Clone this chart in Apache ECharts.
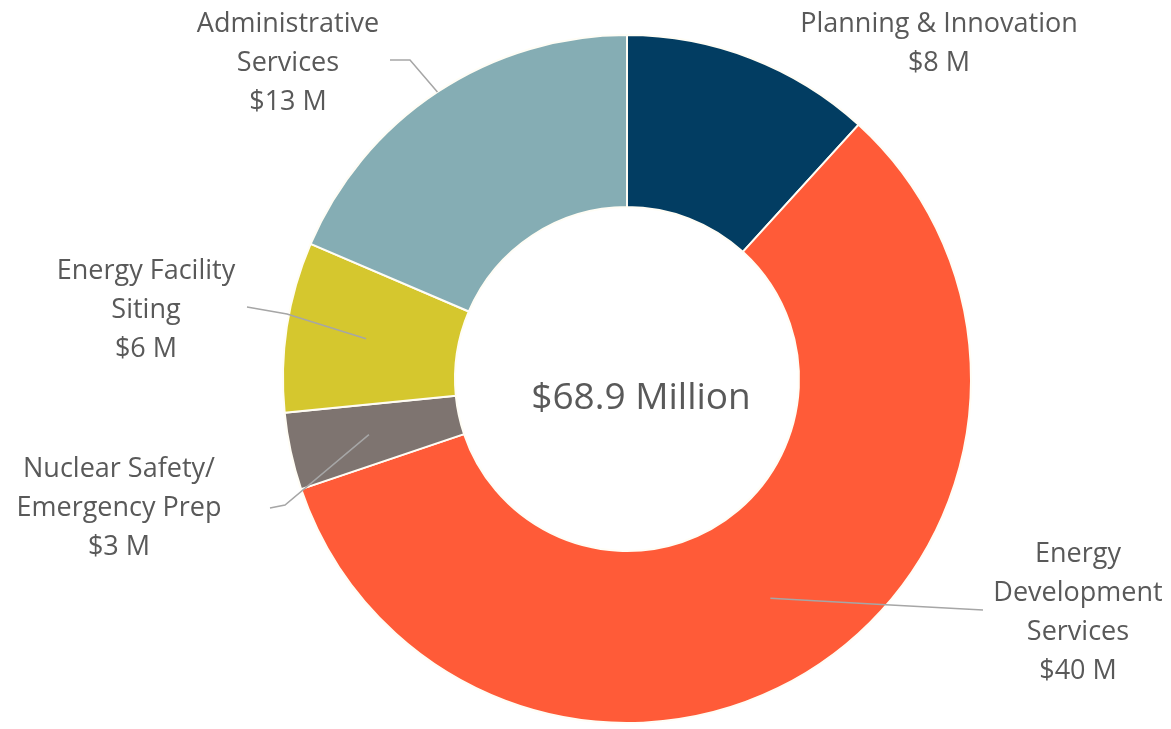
<!DOCTYPE html>
<html>
<head>
<meta charset="utf-8">
<script src="https://cdn.jsdelivr.net/npm/echarts@6/dist/echarts.min.js"></script>
<style>
html,body{margin:0;padding:0;background:#fff;}
#chart{width:1171px;height:729px;}
</style>
</head>
<body>
<div id="chart"></div>
<script>
// ---- data ----
const categories = ['Planning & Innovation', 'Energy Development Services', 'Nuclear Safety/ Emergency Prep', 'Energy Facility Siting', 'Administrative Services'];
const categoryLines = ['Planning & Innovation', 'Energy\nDevelopment\nServices', 'Nuclear Safety/\nEmergency Prep', 'Energy Facility\nSiting', 'Administrative\nServices'];
const values = [8.1, 40.0, 2.5, 5.5, 12.8];
const valueLabels = ['$8 M', '$40 M', '$3 M', '$6 M', '$13 M'];
const totalLabel = '$68.9 Million';
const colors = ['#023D62', '#FF5B38', '#7E7470', '#D5C72E', '#85ADB4'];

// ---- layout (not data) ----
const CX = 627, CY = 379, R_IN = 172, R_OUT = 344;
const labelPos = [[939, 44], [1078, 613], [119, 508], [146, 310], [288, 63]];
// leader line: label-side points, anchor radius
const leader = [
  null,
  {pts: [[983, 610]], r: 262},
  {pts: [[270, 508], [285, 505]], r: 264},
  {pts: [[247, 307], [287, 314]], r: 264},
  {pts: [[390, 60], [410, 60]], r: 344}
];

const total = values.reduce((a, b) => a + b, 0);
const midAngles = [];
let cum = 0;
values.forEach(v => { midAngles.push((90 - (cum + v / 2) / total * 360) * Math.PI / 180); cum += v; });

const chart = echarts.init(document.getElementById('chart'), null, {renderer: 'canvas'});
const FONT = 'Open Sans';
const pieData = categories.map((c, i) => ({name: c, value: values[i]}));

chart.setOption({
  animation: false,
  backgroundColor: '#ffffff',
  title: {
    text: totalLabel,
    left: 636, top: 393, textAlign: 'center', textVerticalAlign: 'middle',
    textStyle: {fontFamily: FONT, fontSize: 37, fontWeight: 'normal', color: '#595959'}
  },
  series: [{
    // coloured ring
    type: 'pie',
    z: 2,
    silent: true,
    center: [CX, CY],
    radius: [R_IN, R_OUT],
    startAngle: 90,
    clockwise: true,
    itemStyle: {borderColor: '#FFFDF5', borderWidth: 2},
    label: {show: false},
    labelLine: {show: false},
    data: pieData.map((d, i) => ({name: d.name, value: d.value, itemStyle: {color: colors[i]}}))
  }, {
    // labels + leader lines drawn on top of the ring
    type: 'pie',
    z: 5,
    silent: true,
    center: [CX, CY],
    radius: [R_IN, R_OUT],
    startAngle: 90,
    clockwise: true,
    avoidLabelOverlap: false,
    itemStyle: {color: 'rgba(0,0,0,0)', borderWidth: 0},
    label: {
      show: true,
      position: 'outside',
      fontFamily: FONT,
      fontSize: 27,
      lineHeight: 39,
      color: '#595959',
      align: 'center',
      formatter: p => categoryLines[p.dataIndex] + '\n' + valueLabels[p.dataIndex]
    },
    labelLine: {show: true, showAbove: true, lineStyle: {color: '#A6A6A6', width: 1.5}},
    labelLayout: function (params) {
      const i = params.dataIndex;
      const out = {x: labelPos[i][0], y: labelPos[i][1], align: 'center', verticalAlign: 'middle'};
      const L = leader[i];
      if (L) {
        const a = midAngles[i];
        const start = [CX + L.r * Math.cos(a), CY - L.r * Math.sin(a)];
        let pts = [start].concat(L.pts.slice().reverse());
        if (pts.length === 2) {
          pts = [start, [(start[0] + L.pts[0][0]) / 2, (start[1] + L.pts[0][1]) / 2], L.pts[0]];
        }
        out.labelLinePoints = pts;
      } else {
        out.labelLinePoints = [[0, 0], [0, 0], [0, 0]];
      }
      return out;
    },
    data: pieData.map((d, i) => ({name: d.name, value: d.value, labelLine: {show: !!leader[i]}}))
  }]
});
</script>
</body>
</html>
